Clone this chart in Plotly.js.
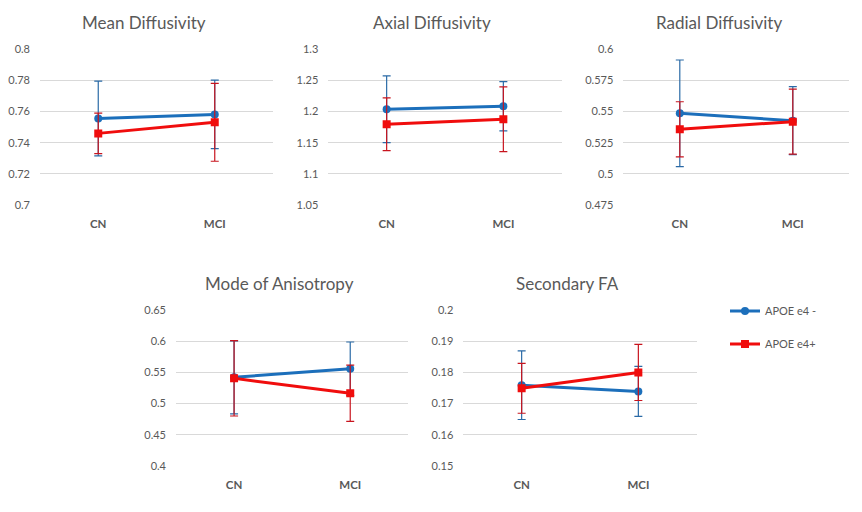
<!DOCTYPE html>
<html>
<head>
<meta charset="utf-8">
<script src="https://cdn.plot.ly/plotly-3.0.1.min.js"></script>
<style>html,body{margin:0;padding:0;background:#fff;}#chart{width:862px;height:512px;}</style>
</head>
<body>
<div id="chart"></div>
<script>
const categories = ['CN', 'MCI'];
const seriesNames = ['APOE e4 -', 'APOE e4+'];
const panelTitles = ['Mean Diffusivity', 'Axial Diffusivity', 'Radial Diffusivity', 'Mode of Anisotropy', 'Secondary FA'];

// Mean Diffusivity
const mdNeg = [0.7555, 0.7582];
const mdNegErr = [0.024, 0.022];
const mdPos = [0.746, 0.7531];
const mdPosErr = [0.013, 0.025];
// Axial Diffusivity
const adNeg = [1.2037, 1.2085];
const adNegErr = [0.0535, 0.0395];
const adPos = [1.1796, 1.1876];
const adPosErr = [0.0423, 0.052];
// Radial Diffusivity
const rdNeg = [0.5486, 0.5427];
const rdNegErr = [0.0428, 0.0273];
const rdPos = [0.5358, 0.5419];
const rdPosErr = [0.0221, 0.0261];
// Mode of Anisotropy
const moNeg = [0.5421, 0.556];
const moNegErr = [0.0585, 0.0427];
const moPos = [0.5405, 0.5165];
const moPosErr = [0.0604, 0.045];
// Secondary FA
const sfaNeg = [0.1759, 0.1739];
const sfaNegErr = [0.011, 0.008];
const sfaPos = [0.1749, 0.18];
const sfaPosErr = [0.008, 0.009];

// axis ranges & ticks
const yRanges = [[0.7, 0.8], [1.05, 1.3], [0.475, 0.6], [0.4, 0.65], [0.15, 0.2]];
const yDticks = [0.02, 0.05, 0.025, 0.05, 0.01];

const W = 862, H = 512;
// plot area boxes in pixels [left, right, top, bottom]
const boxes = [
  [40, 273, 49.3, 205],
  [328.3, 561.7, 49.3, 205],
  [623.3, 849.3, 49.3, 205],
  [176, 408.3, 310, 466],
  [463.3, 696.7, 310, 466]
];
const titlePos = [[144, 22], [432, 22], [719, 22], [279, 283], [567, 283]];

const negSets = [[mdNeg, mdNegErr], [adNeg, adNegErr], [rdNeg, rdNegErr], [moNeg, moNegErr], [sfaNeg, sfaNegErr]];
const posSets = [[mdPos, mdPosErr], [adPos, adPosErr], [rdPos, rdPosErr], [moPos, moPosErr], [sfaPos, sfaPosErr]];

const blue = '#1c6fbb', blueErr = '#2a6aa6';
const red = '#f00d0d', redErr = '#c8141e';
const textColor = '#595959';
const fontFam = 'Lato, "Liberation Sans", sans-serif';

const data = [];
const layout = {
  width: W, height: H,
  margin: {l: 0, r: 0, t: 0, b: 0},
  paper_bgcolor: '#fff', plot_bgcolor: '#fff',
  font: {family: fontFam, color: textColor, size: 11},
  showlegend: true,
  legend: {
    x: 725 / W, xanchor: 'left', y: (H - 296.5) / H, yanchor: 'top',
    font: {size: 11, color: textColor, family: fontFam},
    tracegroupgap: 14, bgcolor: 'rgba(0,0,0,0)', itemwidth: 30
  },
  annotations: []
};

for (let i = 0; i < 5; i++) {
  const sfx = i === 0 ? '' : String(i + 1);
  const b = boxes[i];
  layout['xaxis' + sfx] = {
    domain: [b[0] / W, b[1] / W],
    anchor: 'y' + sfx,
    type: 'category',
    range: [-0.5, 1.5],
    showgrid: false, zeroline: false, showline: false,
    ticks: '', ticklabelstandoff: 10,
    tickfont: {size: 11.5, color: textColor, family: fontFam, weight: 'bold'},
    fixedrange: true
  };
  layout['yaxis' + sfx] = {
    domain: [(H - b[3]) / H, (H - b[2]) / H],
    anchor: 'x' + sfx,
    range: yRanges[i],
    tick0: yRanges[i][0], dtick: yDticks[i],
    showgrid: true, gridcolor: '#d9d9d9', gridwidth: 1,
    zeroline: false, showline: false, ticks: '',
    ticklabelstandoff: 9,
    tickfont: {size: 11, color: textColor, family: fontFam},
    fixedrange: true
  };
  layout.annotations.push({
    text: panelTitles[i], xref: 'paper', yref: 'paper',
    x: titlePos[i][0] / W, y: (H - titlePos[i][1]) / H,
    xanchor: 'center', yanchor: 'middle', showarrow: false,
    font: {size: 17, color: textColor, family: fontFam}
  });
  data.push({
    type: 'scatter', mode: 'lines+markers',
    x: categories, y: negSets[i][0],
    xaxis: 'x' + sfx, yaxis: 'y' + sfx,
    name: seriesNames[0], legendgroup: 'neg', showlegend: i === 0,
    line: {color: blue, width: 3},
    marker: {color: blue, size: 8, symbol: 'circle'},
    error_y: {type: 'data', array: negSets[i][1], visible: true, color: blueErr, thickness: 1.2, width: 4}
  });
  data.push({
    type: 'scatter', mode: 'lines+markers',
    x: categories, y: posSets[i][0],
    xaxis: 'x' + sfx, yaxis: 'y' + sfx,
    name: seriesNames[1], legendgroup: 'pos', showlegend: i === 0,
    line: {color: red, width: 3},
    marker: {color: red, size: 8, symbol: 'square'},
    error_y: {type: 'data', array: posSets[i][1], visible: true, color: redErr, thickness: 1.2, width: 4}
  });
}

Plotly.newPlot('chart', data, layout, {displayModeBar: false, staticPlot: true});
</script>
</body>
</html>
